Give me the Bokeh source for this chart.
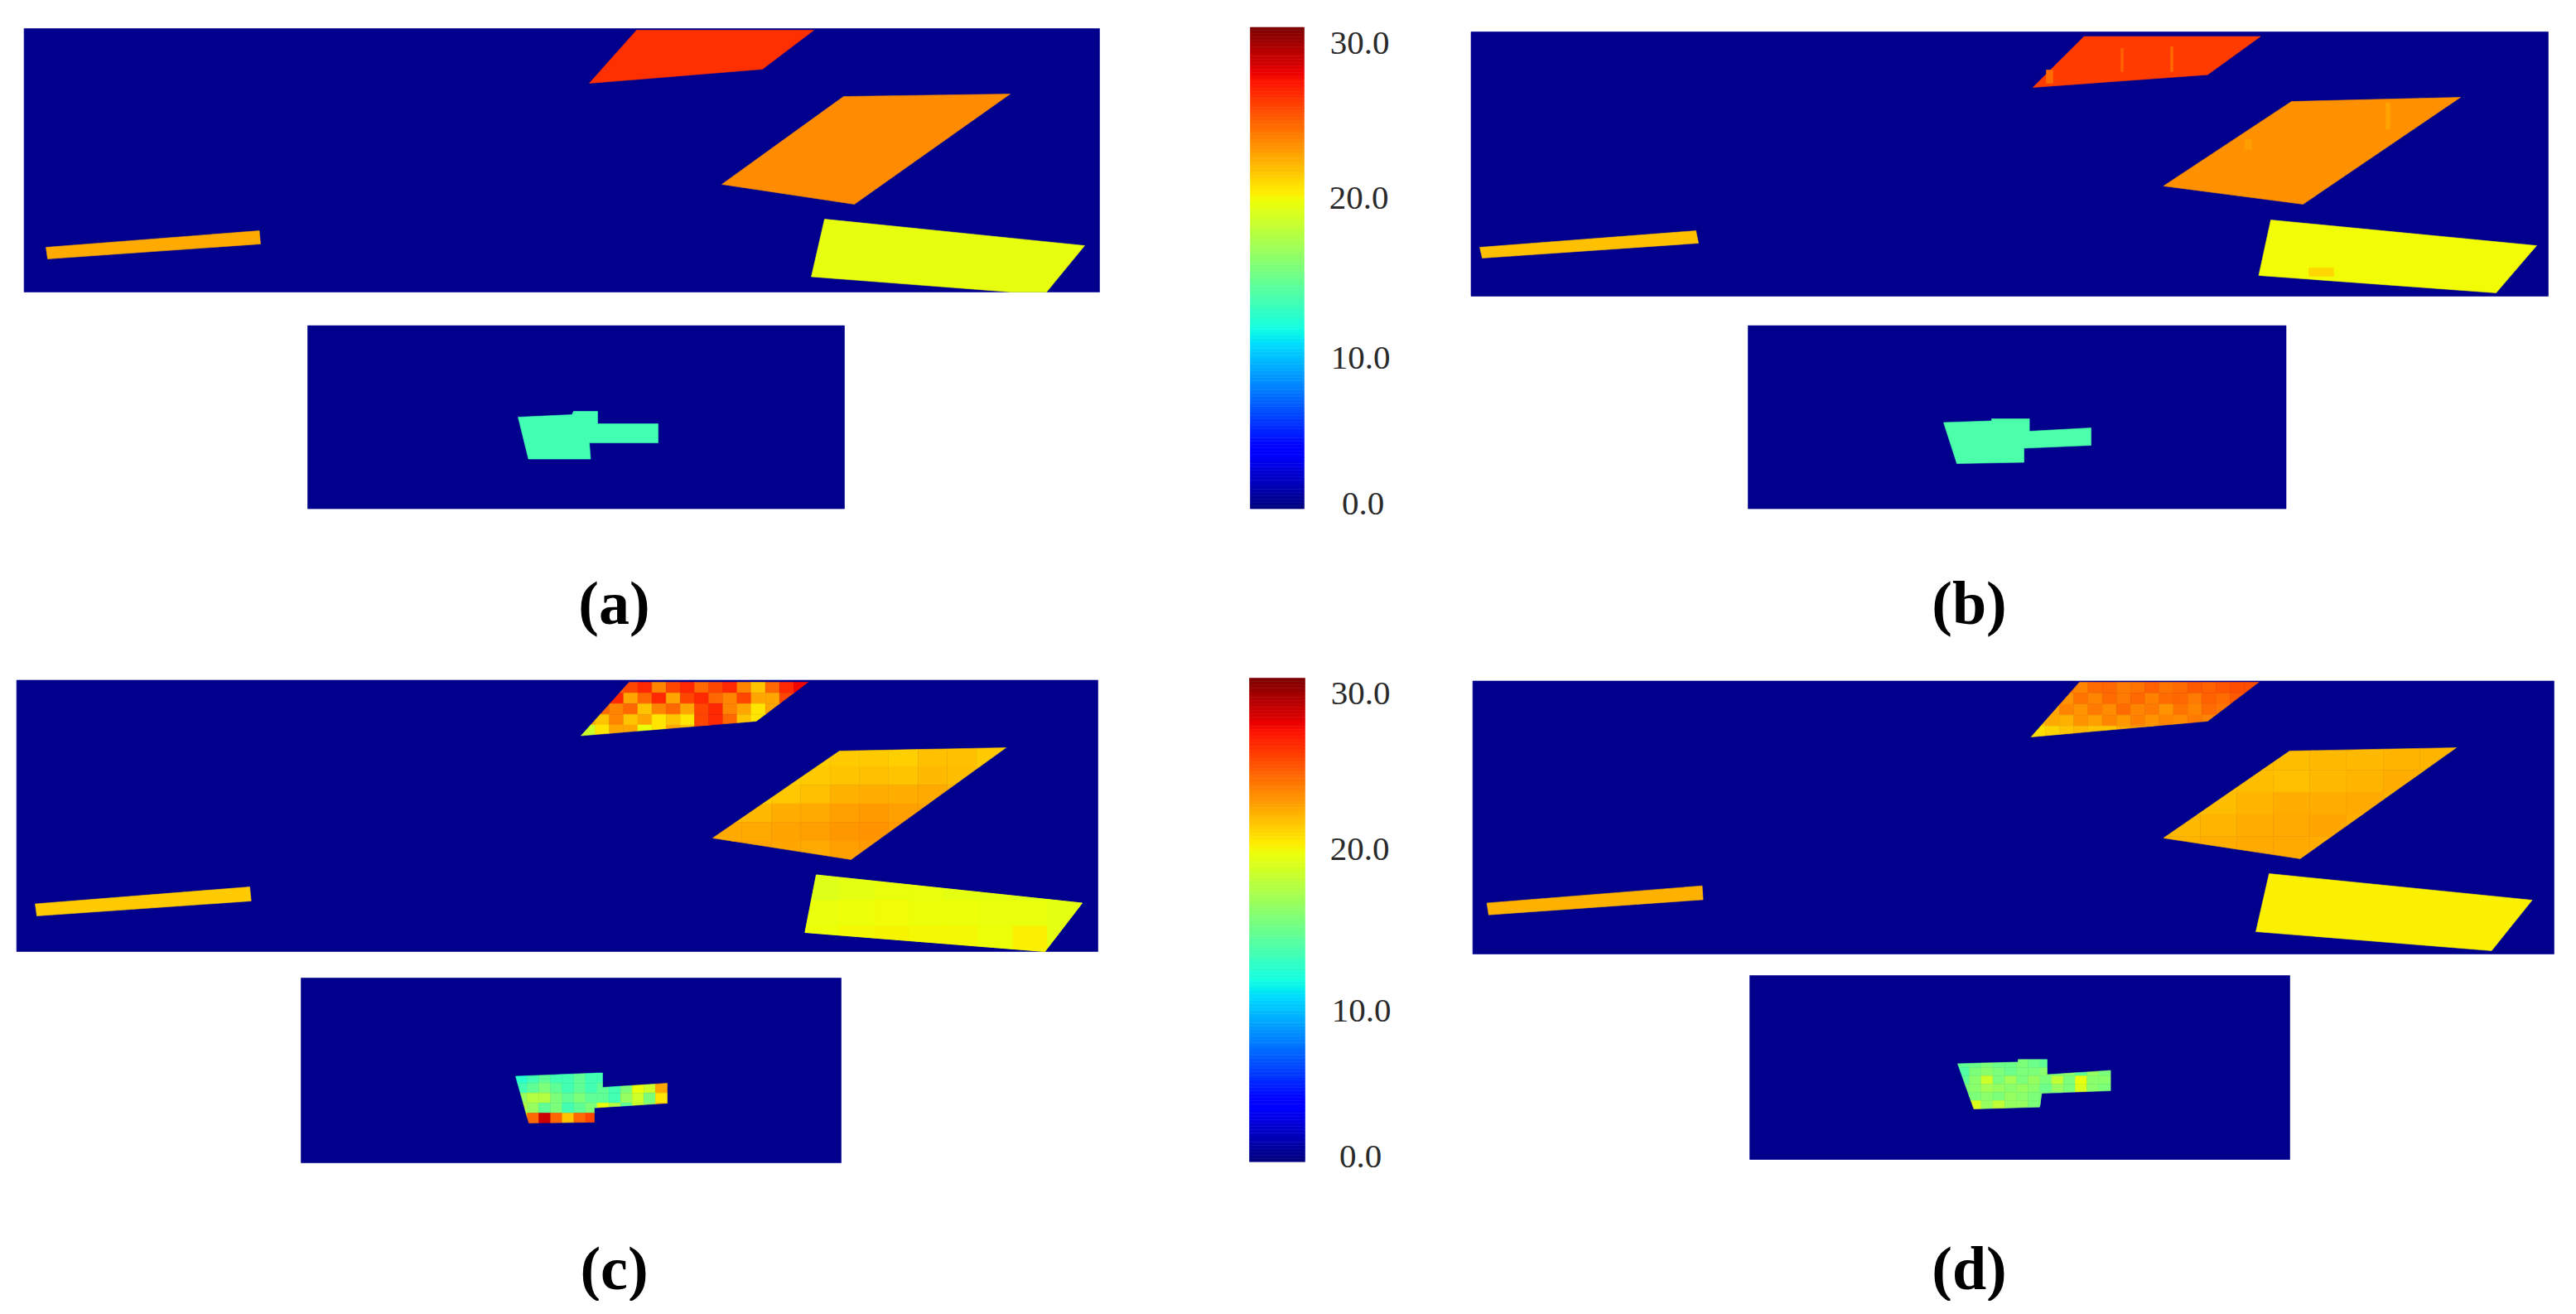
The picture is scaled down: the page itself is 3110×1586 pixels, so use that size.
from bokeh.plotting import figure
from bokeh.models import ColumnDataSource, LinearColorMapper, Range1d
from bokeh.transform import transform
from bokeh.core.properties import value
from bokeh.embed import file_html
from bokeh.resources import INLINE
import numpy as np

FONT = "Liberation Serif"
VMIN, VMAX = 0.0, 30.0
BACKGROUND_VALUE = 0.4

# ---- panel backgrounds: x0, x1, y0, y1 (image pixels), panel name
scene_rects = [
    (28.6, 1327, 34, 352), (371, 1019, 392.6, 613.6),      # a
    (1775.5, 3076, 38, 357), (2110, 2759.5, 392.6, 613.6), # b
    (19.6, 1325, 820.5, 1148), (363, 1015, 1180, 1403),    # c
    (1777.6, 3083, 821.5, 1151), (2112, 2764, 1177, 1399), # d
]

# ---- targets: outline, plus a value
a_red = [(768, 36), (982, 36), (920, 83), (711, 100)]
a_orange = [(1018, 116), (1219, 113), (1031, 246), (871, 222)]
a_bar = [(55, 298), (312.5, 278), (314, 294), (57, 312)]
a_yellow = [(995, 264), (1309, 296), (1263, 352), (1220, 352), (979, 333.5)]
a_target = [(625, 503), (690, 500), (692, 496), (721, 496), (721, 511), (794, 511),
            (794, 534), (711, 534), (712.5, 553.5), (637.5, 553.5)]

b_red = [(2515.6, 43.6), (2728.6, 43.6), (2664.7, 89.7), (2453.8, 105)]
b_orange = [(2766, 122), (2970, 117), (2780, 246), (2611.5, 224)]
b_bar = [(1786, 298), (2047, 278), (2050, 293), (1789, 311)]
b_yellow = [(2741, 265), (3062, 296), (3013, 353), (2726.5, 332)]
b_target = [(2346, 509.5), (2404, 507.5), (2404, 505), (2449.6, 505), (2449.6, 520), (2524, 516),
            (2524, 537), (2443, 540.5), (2443, 557.5), (2362, 559)]

c_red = [(759, 823), (975, 823), (912.5, 870), (701, 887.5)]
c_orange = [(1013, 906), (1214, 902), (1027, 1037), (860, 1011)]
c_bar = [(42, 1090.5), (301, 1070), (302.7, 1087), (44, 1105)]
c_yellow = [(985, 1055.5), (1306, 1089.5), (1261, 1148), (971.4, 1125)]
c_target = [(622, 1298.6), (721, 1294.6), (727, 1294.6), (727, 1312), (805, 1307), (805, 1331),
            (717, 1336.7), (717, 1354), (638, 1355)]

d_red = [(2510, 823), (2726.5, 823), (2664.7, 870), (2451.7, 889)]
d_orange = [(2763.7, 906), (2965, 902), (2776.5, 1036), (2611.5, 1011)]
d_bar = [(1794.6, 1089.5), (2054.5, 1068.7), (2055.6, 1085.4), (1796.8, 1103.7)]
d_yellow = [(2739, 1054), (3056.6, 1086), (3007.6, 1147), (2723, 1124)]
d_target = [(2363, 1283.4), (2436, 1281.4), (2436, 1278.3), (2471, 1278.3), (2471, 1296.6), (2547.6, 1291.5),
            (2547.6, 1316), (2464.5, 1319), (2462, 1335.7), (2382.5, 1338)]

flat_targets = [
    (a_red, 25.7), (a_orange, 22.8), (a_bar, 21.8), (a_yellow, 18.9), (a_target, 13.0),
    (b_red, 25.4), (b_orange, 22.7), (b_bar, 21.2), (b_yellow, 19.3), (b_target, 13.3),
    (c_bar, 20.8), (c_yellow, 18.9),
    (d_bar, 21.6), (d_yellow, 19.6),
]

# ---- retrieved values read cell by cell off the noisy targets
c_red_cells = [
    [26, 25, 24, 25, 26, 23, 25, 26, 24, 25, 26, 23, 21, 24, 26, 27],
    [25, 25, 26, 22, 24, 26, 22, 25, 26, 24, 23, 25, 22, 22, 25, 26],
    [24, 24, 23, 24, 21, 23, 24, 22, 25, 26, 23, 22, 20, 22, 24, 25],
    [22, 21, 23, 21, 22, 20, 21, 20, 25, 26, 24, 21, 20, 22, 23, 24],
    [18, 20, 22, 22, 19, 20, 22, 21, 25, 26, 22, 21, 21, 22, 22, 23],
]
c_orange_cells = [
    [20.6, 20.8, 20.7, 20.7, 20.8, 20.8, 20.7, 21.2, 21.1, 20.8],
    [20.5, 20.7, 20.7, 20.8, 21.0, 21.1, 21.0, 21.4, 21.3, 21.1],
    [20.5, 20.7, 20.9, 21.2, 21.6, 21.7, 21.7, 21.8, 21.5, 21.3],
    [21.2, 21.4, 21.7, 21.9, 22.2, 22.3, 22.2, 22.1, 21.8, 21.4],
    [21.8, 21.9, 22.1, 22.2, 22.4, 22.5, 22.3, 22.0, 21.6, 21.4],
    [22.1, 22.1, 22.0, 21.9, 22.2, 22.3, 22.2, 21.8, 21.6, 21.4],
]
c_target_cells = [
    [12, 13, 14, 13, 13, 14, 13, 13, 12, 14, 19, 20, 20],
    [13, 14, 15, 14, 13, 14, 13, 14, 13, 15, 19, 18, 22],
    [16, 17, 17, 15, 14, 15, 14, 14, 13, 16, 18, 15, 20],
    [17, 16, 14, 15, 13, 14, 15, 19, 17, 14, 18, 16, 21],
    [20, 24, 28, 24, 21, 24, 25, 22, 26, 13, 13, 13, 13],
]
d_red_cells = [
    [23.5, 23.0, 23.5, 23.0, 23.8, 24.0, 23.4, 23.6, 24.2, 23.6, 23.8, 24.4, 24.2, 24.6, 24.8, 24.8],
    [23.0, 23.2, 22.6, 23.6, 23.0, 23.8, 23.4, 24.0, 23.2, 23.8, 24.0, 23.4, 24.2, 23.8, 24.4, 24.0],
    [22.4, 22.0, 23.0, 22.6, 23.4, 22.8, 23.8, 23.0, 23.4, 22.6, 23.6, 23.0, 23.8, 23.6, 24.0, 24.0],
    [21.2, 21.8, 21.6, 22.6, 22.2, 23.0, 22.4, 23.2, 22.6, 23.0, 22.8, 23.4, 23.0, 23.4, 23.6, 23.6],
    [20.2, 20.6, 21.0, 21.4, 21.0, 21.0, 21.8, 22.2, 22.0, 22.6, 22.4, 23.0, 23.0, 23.0, 23.0, 23.0],
]
d_orange_cells = [
    [21.4, 21.4, 21.3, 21.3, 21.4, 21.4, 21.5, 21.5],
    [21.3, 21.3, 21.3, 21.2, 21.4, 21.5, 21.7, 21.5],
    [21.2, 21.3, 21.5, 21.7, 21.7, 21.9, 21.6, 21.4],
    [21.4, 21.5, 21.7, 21.9, 22.0, 21.7, 21.6, 21.4],
    [21.5, 21.7, 21.9, 21.9, 21.7, 21.6, 21.4, 21.4],
]
d_target_cells = [
    [14.0, 14.5, 15.0, 14.5, 14.5, 15.0, 14.5, 14.0, 15.0, 15.5, 15.5, 15.5, 15.0],
    [13.5, 15.0, 15.5, 15.0, 14.5, 15.0, 15.0, 15.5, 15.0, 15.5, 14.0, 16.0, 15.0],
    [14.0, 15.5, 18.0, 15.0, 16.5, 15.0, 16.0, 15.0, 17.5, 15.0, 19.0, 15.5, 15.5],
    [15.0, 15.5, 16.5, 16.0, 15.5, 16.0, 15.5, 14.5, 16.0, 15.0, 18.5, 15.5, 15.0],
    [15.0, 15.0, 15.5, 15.0, 16.0, 15.5, 15.0, 15.0, 14.5, 14.5, 14.5, 14.5, 14.5],
    [15.5, 18.5, 16.0, 17.5, 16.0, 16.0, 15.0, 15.0, 14.5, 14.5, 14.5, 14.5, 14.5],
]
c_yellow_cells = [
    [18.6, 18.8, 19.0, 19.0, 18.8, 18.8, 18.6, 18.8],
    [19.0, 19.2, 19.3, 19.2, 19.2, 19.0, 19.0, 18.8],
    [19.2, 19.4, 19.5, 19.4, 19.4, 19.2, 19.6, 18.8],
]

grids = [
    (c_red, c_red_cells), (c_orange, c_orange_cells), (c_target, c_target_cells),
    (d_red, d_red_cells), (d_orange, d_orange_cells), (d_target, d_target_cells),
    (c_yellow, c_yellow_cells),
]

b_streaks = [
    ([(2880, 124), (2885, 124), (2885, 155), (2880, 155)], 22.1),
    ([(2710, 168), (2718, 168), (2718, 180), (2710, 180)], 22.2),
    ([(2560, 58), (2563, 58), (2563, 86), (2560, 86)], 24.2),
    ([(2620, 56), (2623, 56), (2623, 86), (2620, 86)], 24.0),
    ([(2470, 84), (2478, 84), (2478, 100), (2470, 100)], 23.8),
    ([(2787, 323), (2817, 323), (2817, 333), (2787, 333)], 20.4),
]

# ---- colour scale and labels
scale_bars = [(1509, 1574, 32.5, 613.6), (1508, 1575, 818, 1401.7)]
scale_labels = ["30.0", "20.0", "10.0", "0.0"]
scale_label_x = [1641, 1640, 1642, 1645, 1642, 1641, 1643, 1642]
scale_label_y = [51, 238.5, 431, 607, 836.7, 1024.5, 1219.4, 1395]
panel_labels = ["(a)", "(b)", "(c)", "(d)"]
panel_label_x = [741, 2377, 741, 2377]
panel_label_y = [727, 727, 1530, 1530]


def jet_channel(t, pts):
    return np.interp(t, [p[0] for p in pts], [p[1] for p in pts])


ts = np.linspace(0, 1, 256)
R = jet_channel(ts, [(0, 0), (0.35, 0), (0.66, 1), (0.89, 1), (1, 0.5)])
G = jet_channel(ts, [(0, 0), (0.125, 0), (0.375, 1), (0.64, 1), (0.91, 0), (1, 0)])
B = jet_channel(ts, [(0, 0.5), (0.11, 1), (0.34, 1), (0.65, 0), (1, 0)])
JET = ["#%02x%02x%02x" % (int(r * 255), int(g * 255), int(b * 255)) for r, g, b in zip(R, G, B)]
mapper = LinearColorMapper(palette=JET, low=VMIN, high=VMAX)


def clip(poly, x0, x1, y0, y1):
    """Cut a polygon to one grid cell."""
    def cut(pts, inside, cross):
        out = []
        for i, cur in enumerate(pts):
            prev = pts[i - 1]
            if inside(cur):
                if not inside(prev):
                    out.append(cross(prev, cur))
                out.append(cur)
            elif inside(prev):
                out.append(cross(prev, cur))
        return out

    def at_x(x):
        return lambda a, b: (x, a[1] + (b[1] - a[1]) * (x - a[0]) / (b[0] - a[0]))

    def at_y(y):
        return lambda a, b: (a[0] + (b[0] - a[0]) * (y - a[1]) / (b[1] - a[1]), y)

    pts = list(poly)
    for inside, cross in [(lambda p: p[0] >= x0, at_x(x0)), (lambda p: p[0] <= x1, at_x(x1)),
                          (lambda p: p[1] >= y0, at_y(y0)), (lambda p: p[1] <= y1, at_y(y1))]:
        if not pts:
            return pts
        pts = cut(pts, inside, cross)
    return pts


xs, ys, vs = [], [], []


def add(poly, v):
    xs.append([p[0] for p in poly])
    ys.append([p[1] for p in poly])
    vs.append(v)


for x0, x1, y0, y1 in scene_rects:
    add([(x0, y0), (x1, y0), (x1, y1), (x0, y1)], BACKGROUND_VALUE)
for poly, v in flat_targets:
    add(poly, v)
for poly, cells in grids:
    px = [p[0] for p in poly]
    py = [p[1] for p in poly]
    xe = np.linspace(min(px), max(px), len(cells[0]) + 1)
    ye = np.linspace(min(py), max(py), len(cells) + 1)
    for r, row in enumerate(cells):
        for c, v in enumerate(row):
            piece = clip(poly, xe[c], xe[c + 1], ye[r], ye[r + 1])
            if len(piece) >= 3:
                add(piece, v)
for poly, v in b_streaks:
    add(poly, v)

W, H = 3094, 1570
p = figure(width=W, height=H, output_backend="svg", toolbar_location=None,
           x_range=Range1d(0, W), y_range=Range1d(H, 0),
           x_axis_type=None, y_axis_type=None, min_border=0, outline_line_color=None)
p.grid.visible = False
p.background_fill_color = "#ffffff"
p.border_fill_color = "#ffffff"

src = ColumnDataSource(dict(xs=xs, ys=ys, v=vs))
p.patches("xs", "ys", source=src, fill_color=transform("v", mapper),
          line_color=transform("v", mapper), line_width=0.6)

for x0, x1, y0, y1 in scale_bars:
    n = 150
    steps = np.linspace(VMIN, VMAX, n + 1)
    span = (y1 - y0) / (VMAX - VMIN)
    bar = ColumnDataSource(dict(
        left=[x0] * n, right=[x1] * n,
        top=list(y1 - steps[1:] * span),
        bottom=list(y1 - steps[:-1] * span),
        v=list((steps[:-1] + steps[1:]) / 2)))
    p.quad(left="left", right="right", top="top", bottom="bottom", source=bar,
           fill_color=transform("v", mapper), line_color=transform("v", mapper), line_width=0.6)

p.text(x=scale_label_x, y=scale_label_y, text=scale_labels * 2, text_font=value(FONT),
       text_font_size="41px", text_color="#2a2a2a", text_align="center", text_baseline="middle")
p.text(x=panel_label_x, y=panel_label_y, text=panel_labels, text_font=value(FONT),
       text_font_size="74px", text_font_style="bold", text_color="#000000",
       text_align="center", text_baseline="middle")

open("out.html", "w").write(file_html(p, INLINE))
